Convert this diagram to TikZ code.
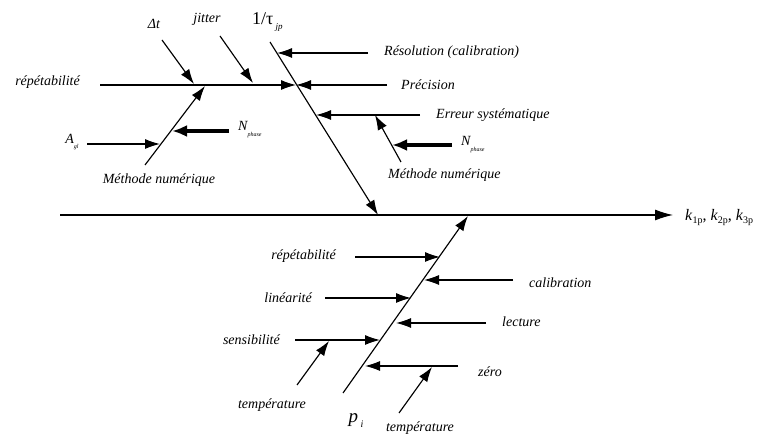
\documentclass[tikz,border=0pt]{standalone}
\usepackage{fontspec}
\setmainfont{Liberation Serif}
\usetikzlibrary{arrows.meta}
\tikzset{
  ln/.style={line width=1.15pt, -{Latex[length=15pt,width=10pt]}},
  spine/.style={line width=1.15pt, -{Latex[length=18pt,width=11pt]}},
  thick arrow/.style={line width=3.8pt, -{Latex[length=15pt,width=12pt]}},
  lbl/.style={font=\fontsize{14}{16}\selectfont\itshape, inner sep=1pt},
}
\begin{document}
\begin{tikzpicture}[x=1pt,y=-1pt]
\useasboundingbox (0,0) rectangle (780,438);
% coordinates
\coordinate (spineL) at (60,215);
\coordinate (spineR) at (673,215);
\coordinate (tA) at (270,42);
\coordinate (tB) at (378,215);
\coordinate (repL) at (100,85);
\coordinate (X1) at (296,85);
\coordinate (precR) at (387,85);
\coordinate (resR) at (368,53);
\coordinate (resX) at (277,53);
\coordinate (errR) at (420,115);
\coordinate (errX) at (316,115);
\coordinate (mR1) at (401,162);
\coordinate (mR2) at (375,115);
\coordinate (nR1) at (452,145);
\coordinate (nR2) at (392,145);
\coordinate (dt1) at (162,40);
\coordinate (dt2) at (194,84);
\coordinate (ji1) at (220,36);
\coordinate (ji2) at (253,83);
\coordinate (mL1) at (145,165);
\coordinate (mL2) at (205,86);
\coordinate (ag1) at (87,144);
\coordinate (ag2) at (160,144);
\coordinate (nL1) at (229,131);
\coordinate (nL2) at (172,131);
\coordinate (bA) at (343,393);
\coordinate (bB) at (468,216);
\coordinate (rp1) at (355,257);
\coordinate (rp2) at (440,257);
\coordinate (ca1) at (513,280);
\coordinate (ca2) at (424,280);
\coordinate (li1) at (325,298);
\coordinate (li2) at (411,298);
\coordinate (le1) at (486,323);
\coordinate (le2) at (396,323);
\coordinate (se1) at (295,340);
\coordinate (se2) at (380,340);
\coordinate (tl1) at (297,385);
\coordinate (tl2) at (329,341);
\coordinate (ze1) at (458,366);
\coordinate (ze2) at (365,366);
\coordinate (tr1) at (399,413);
\coordinate (tr2) at (432,367);

% spine
\draw[spine] (spineL) -- (spineR);
% top diagonal
\draw[ln] (tA) -- (tB);
\draw[ln] (repL) -- (X1);
\draw[ln] (precR) -- (X1);
\draw[ln] (resR) -- (resX);
\draw[ln] (errR) -- (errX);
\draw[ln] (mR1) -- (mR2);
\draw[thick arrow] (nR1) -- (nR2);
\draw[ln] (dt1) -- (dt2);
\draw[ln] (ji1) -- (ji2);
\draw[ln] (mL1) -- (mL2);
\draw[ln] (ag1) -- (ag2);
\draw[thick arrow] (nL1) -- (nL2);
% bottom diagonal
\draw[ln] (bA) -- (bB);
\draw[ln] (rp1) -- (rp2);
\draw[ln] (ca1) -- (ca2);
\draw[ln] (li1) -- (li2);
\draw[ln] (le1) -- (le2);
\draw[ln] (se1) -- (se2);
\draw[ln] (tl1) -- (tl2);
\draw[ln] (ze1) -- (ze2);
\draw[ln] (tr1) -- (tr2);

% labels top
\node[lbl, anchor=east] (l1) at (81,82) {répétabilité};
\node[lbl] (l2) at (159,180) {Méthode numérique};
\node[lbl] (l3) at (72,142) {A\raisebox{-5pt}{\fontsize{6}{6}\selectfont gl}};
\node[lbl, anchor=west] (l4) at (237,130) {N\raisebox{-6pt}{\fontsize{6}{6}\selectfont phase}};
\node[lbl] (l5) at (154,24) {Δt};
\node[lbl] (l6) at (207,19) {jitter};
\node[anchor=west, inner sep=1pt, font=\fontsize{18}{20}\selectfont] (l7) at (251,22) {1/τ\raisebox{-5pt}{\fontsize{9}{10}\selectfont\itshape ~jp}};
\node[lbl, anchor=west] (l8) at (383,52) {Résolution (calibration)};
\node[lbl, anchor=west] (l9) at (400,85) {Précision};
\node[lbl, anchor=west] (l10) at (435,115) {Erreur systématique};
\node[lbl, anchor=west] (l11) at (460,145) {N\raisebox{-6pt}{\fontsize{6}{6}\selectfont phase}};
\node[lbl, anchor=west] (l12) at (387,175) {Méthode numérique};
\node[anchor=west, inner sep=1pt, font=\fontsize{16}{18}\selectfont] (l13) at (684,218) {\textit{k}\raisebox{-3pt}{\fontsize{10}{11}\selectfont 1p}, \textit{k}\raisebox{-3pt}{\fontsize{10}{11}\selectfont 2p}, \textit{k}\raisebox{-3pt}{\fontsize{10}{11}\selectfont 3p}};
% labels bottom
\node[lbl, anchor=east] (b1) at (337,256) {répétabilité};
\node[lbl, anchor=west] (b2) at (528,283) {calibration};
\node[lbl, anchor=east] (b3) at (313,298) {linéarité};
\node[lbl, anchor=west] (b4) at (501,322) {lecture};
\node[lbl, anchor=east] (b5) at (281,340) {sensibilité};
\node[lbl] (b6) at (272,405) {température};
\node[lbl, anchor=west] (b7) at (477,372) {zéro};
\node[lbl] (b8) at (420,428) {température};
\node[inner sep=1pt, font=\fontsize{19}{21}\selectfont\itshape] (b9) at (356,421) {p\raisebox{-5pt}{\fontsize{10}{11}\selectfont ~i}};
\end{tikzpicture}
\end{document}
